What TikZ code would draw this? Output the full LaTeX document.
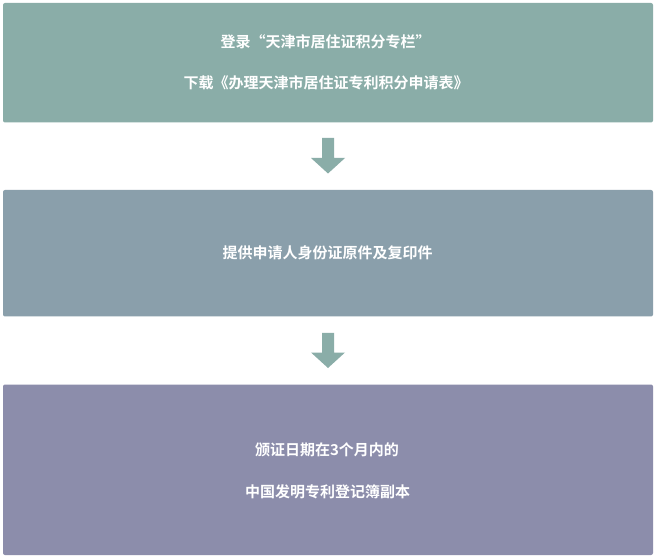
\documentclass[tikz,border=0pt]{standalone}
\usepackage{fontspec}
\newfontfamily\cjk{Noto Sans CJK SC}[BoldFont={Noto Sans CJK SC Bold}]
\begin{document}
\begin{tikzpicture}[x=1pt,y=-1pt,
  stepbox/.style={rounded corners=2pt},
  lbl/.style={text=white,font=\cjk\bfseries\fontsize{15pt}{18pt}\selectfont,inner sep=0pt,anchor=center},
  darrow/.style={fill=arrowc,draw=none}]
\definecolor{boxa}{HTML}{8AADA8}
\definecolor{boxb}{HTML}{8A9FAB}
\definecolor{boxc}{HTML}{8C8DAB}
\definecolor{arrowc}{HTML}{8AADA8}
\useasboundingbox (0,0) rectangle (657,559);
\fill[white] (0,0) rectangle (657,559);
% boxes
\fill[boxa,stepbox] (3,3) rectangle (653,122.5);
\fill[boxb,stepbox] (3,190) rectangle (653,316.5);
\fill[boxc,stepbox] (3,384.5) rectangle (653,555);
\node[lbl] (t1a) at (325.5,42) {登录“天津市居住证积分专栏”};
\node[lbl] (t1b) at (326,83) {下载《办理天津市居住证专利积分申请表》};
\node[lbl] (t2) at (327.5,253) {提供申请人身份证原件及复印件};
\node[lbl] (t3a) at (327,450) {颁证日期在3个月内的};
\node[lbl] (t3b) at (327.5,492) {中国发明专利登记簿副本};
% arrows
\fill[darrow] (322,138) -- (334,138) -- (334,158) -- (345,158) -- (328,173.5) -- (311,158) -- (322,158) -- cycle;
\fill[darrow] (322,333) -- (334,333) -- (334,352.5) -- (345,352.5) -- (328,368) -- (311,352.5) -- (322,352.5) -- cycle;
\end{tikzpicture}
\end{document}
